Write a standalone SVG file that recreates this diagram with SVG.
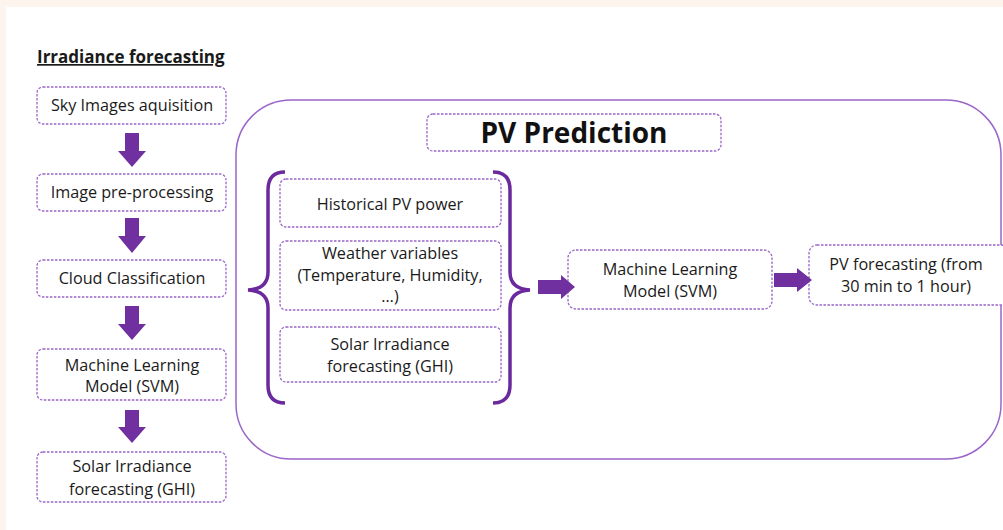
<svg xmlns="http://www.w3.org/2000/svg" width="1003" height="530" viewBox="0 0 1003 530">
<defs>
<style>
.box{fill:#fff;stroke:#9a66c8;stroke-width:1.3;stroke-dasharray:2.5 1.5}
.t{font-family:"Open Sans","Liberation Sans",sans-serif;font-size:16.2px;fill:#1a1a1a;text-anchor:middle}
.arr{fill:#7030a0}
.brace{fill:none;stroke:#6a2a9e;stroke-width:3.5;stroke-linecap:butt}
</style>
</defs>
<rect x="0" y="0" width="1003" height="530" fill="#fdf4ee"/>
<rect x="6" y="7" width="997" height="523" fill="#fff"/>
<text x="37" y="63" font-family="'Open Sans','Liberation Sans',sans-serif" font-size="17" font-weight="bold" fill="#1a1a1a" text-decoration="underline">Irradiance forecasting</text>

<g id="pv-container">
<rect x="236" y="100" width="765" height="359" rx="55" ry="55" fill="#fff" stroke="#9a66c8" stroke-width="1.5"/>
</g>

<g id="n1"><rect class="box" x="37" y="87" width="189" height="37" rx="6"/><text class="t" x="132" y="111">Sky Images aquisition</text></g>
<g id="n2"><rect class="box" x="37" y="174" width="189" height="37" rx="6"/><text class="t" x="132" y="198">Image pre-processing</text></g>
<g id="n3"><rect class="box" x="37" y="260" width="189" height="37" rx="6"/><text class="t" x="132" y="284">Cloud Classification</text></g>
<g id="n4"><rect class="box" x="37" y="349" width="189" height="51" rx="6"/><text class="t" x="132" y="371">Machine Learning</text><text class="t" x="132" y="392">Model (SVM)</text></g>
<g id="n5"><rect class="box" x="37" y="452" width="189" height="50" rx="6"/><text class="t" x="132" y="472">Solar Irradiance</text><text class="t" x="132" y="495">forecasting (GHI)</text></g>

<g id="title"><rect class="box" x="427" y="114" width="294" height="37" rx="6"/><text x="574" y="143" font-family="'Open Sans','Liberation Sans',sans-serif" font-size="28" font-weight="bold" fill="#111" text-anchor="middle">PV Prediction</text></g>

<g id="i1"><rect class="box" x="280" y="179" width="221" height="48" rx="6"/><text class="t" x="390" y="210">Historical PV power</text></g>
<g id="i2"><rect class="box" x="280" y="241" width="221" height="69" rx="6"/><text class="t" x="390" y="259">Weather variables</text><text class="t" x="390" y="281">(Temperature, Humidity,</text><text class="t" x="390" y="302">…)</text></g>
<g id="i3"><rect class="box" x="280" y="327" width="221" height="55" rx="6"/><text class="t" x="390" y="350">Solar Irradiance</text><text class="t" x="390" y="372">forecasting (GHI)</text></g>

<g id="ml"><rect class="box" x="568" y="250" width="204" height="59" rx="8"/><text class="t" x="670" y="275">Machine Learning</text><text class="t" x="670" y="297">Model (SVM)</text></g>
<g id="pvf"><rect class="box" x="809" y="245" width="200" height="60" rx="8"/><text class="t" x="906" y="270">PV forecasting (from</text><text class="t" x="906" y="292">30 min to 1 hour)</text></g>

<g id="connectors">
<path class="brace" d="M285,172 Q268,172 268,190 L268,272 Q268,289 248,290 Q268,291 268,308 L268,385 Q268,403 285,403"/>
<path class="brace" d="M493,172 Q510,172 510,190 L510,272 Q510,289 530,290 Q510,291 510,308 L510,385 Q510,403 493,403"/>
<polygon class="arr" points="125,133 139,133 139,151 146,151 132,167 118,151 125,151"/>
<polygon class="arr" points="125,218 139,218 139,236 146,236 132,253 118,236 125,236"/>
<polygon class="arr" points="125,306 139,306 139,324 146,324 132,340 118,324 125,324"/>
<polygon class="arr" points="125,410 139,410 139,427 146,427 132,443 118,427 125,427"/>
<polygon class="arr" points="538,280 561,280 561,275 575,287 561,299 561,294 538,294"/>
<polygon class="arr" points="774,273 797,273 797,268 812,280 797,292 797,287 774,287"/>
</g>
</svg>
